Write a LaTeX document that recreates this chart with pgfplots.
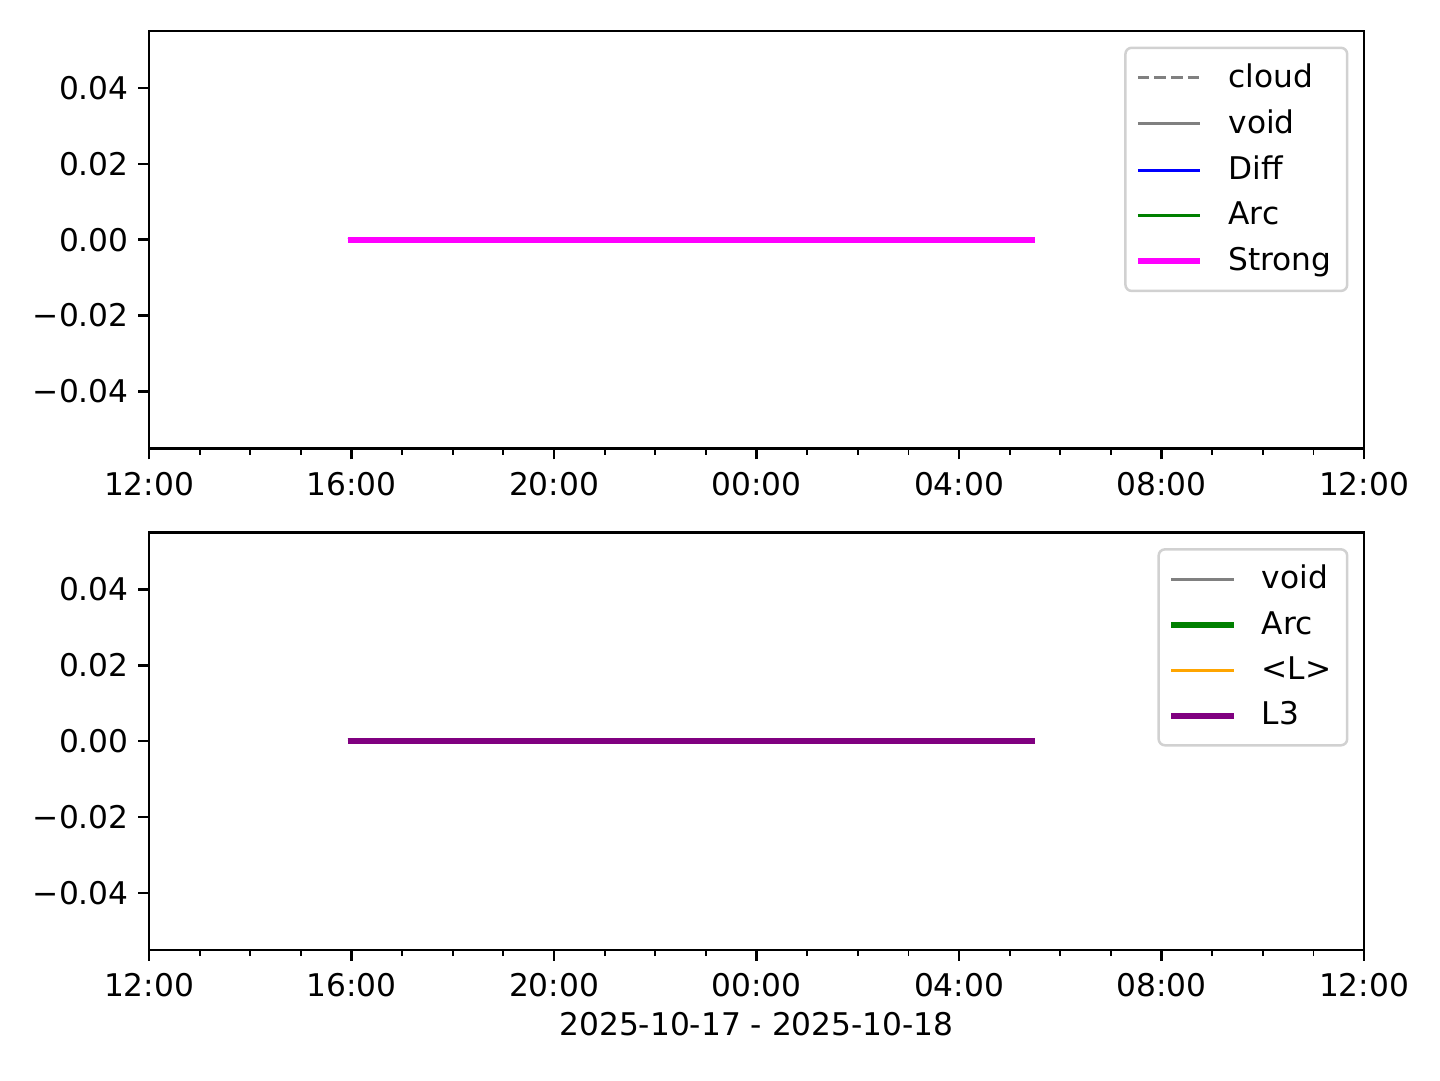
\documentclass[border=0pt]{standalone}
\usepackage{pgfplots}
\pgfplotsset{compat=1.18}
\usepackage{fontspec}
\setmainfont{DejaVu Sans}
\definecolor{mgray}{HTML}{808080}
\definecolor{mblue}{HTML}{0000FF}
\definecolor{mgreen}{HTML}{008000}
\definecolor{mmagenta}{HTML}{FF00FF}
\definecolor{morange}{HTML}{FFA500}
\definecolor{mpurple}{HTML}{800080}
\pgfplotsset{
  myaxis/.style={
    scale only axis,
    width=388.8pt, height=133.6pt,
    xmin=12, xmax=36, ymin=-0.055, ymax=0.055,
    scaled y ticks=false,
    xtick={12,16,20,24,28,32,36},
    xticklabels={12:00,16:00,20:00,00:00,04:00,08:00,12:00},
    minor xtick={13,14,15,17,18,19,21,22,23,25,26,27,29,30,31,33,34,35},
    ytick={-0.04,-0.02,0,0.02,0.04},
    yticklabels={−0.04,−0.02,0.00,0.02,0.04},
    tick align=outside,
    xtick pos=bottom, ytick pos=left,
    major tick length=3.5pt, minor tick length=2pt,
    every tick/.style={black, line width=0.8pt},
    minor tick style={black, line width=0.6pt},
    axis line style={line width=0.8pt},
    tick label style={font=\fontsize{10}{12}\selectfont},
    label style={font=\fontsize{10}{12}\selectfont},
    xticklabel style={yshift=-0.5pt},
    yticklabel style={xshift=0.5pt},
    legend style={
      at={(1,1)}, anchor=north east, xshift=-5pt, yshift=-5pt,
      draw=black!18, rounded corners=2pt, line width=0.8pt,
      font=\fontsize{10}{12}\selectfont,
      row sep=1.7pt, inner xsep=3pt, inner ysep=3pt,
      cells={anchor=west},
      /tikz/every odd column/.append style={column sep=6pt},
    },
    legend image code/.code={\draw[##1] (0pt,0pt) -- (20pt,0pt);},
  }
}
\begin{document}
\begin{tikzpicture}
\path (0,0) rectangle (460.8pt,345.6pt);
\begin{axis}[myaxis, at={(47.7pt,202.1pt)}, anchor=south west]
\addplot[mgray, line width=1pt, dash pattern=on 3.7pt off 1.6pt] coordinates {(15.92,0) (29.5,0)};
\addlegendentry{cloud}
\addplot[mgray, line width=1pt] coordinates {(15.92,0) (29.5,0)};
\addlegendentry{void}
\addplot[mblue, line width=1pt] coordinates {(15.92,0) (29.5,0)};
\addlegendentry{Diff}
\addplot[mgreen, line width=1pt] coordinates {(15.92,0) (29.5,0)};
\addlegendentry{Arc}
\addplot[mmagenta, line width=2pt] coordinates {(15.92,0) (29.5,0)};
\addlegendentry{Strong}
\end{axis}
\begin{axis}[myaxis, at={(47.7pt,41.6pt)}, anchor=south west,
  xlabel={2025-10-17 - 2025-10-18}, xlabel style={yshift=2pt}]
\addplot[mgray, line width=1pt] coordinates {(15.92,0) (29.5,0)};
\addlegendentry{void}
\addplot[mgreen, line width=2pt] coordinates {(15.92,0) (29.5,0)};
\addlegendentry{Arc}
\addplot[morange, line width=1pt] coordinates {(15.92,0) (29.5,0)};
\addlegendentry{<L>}
\addplot[mpurple, line width=2pt] coordinates {(15.92,0) (29.5,0)};
\addlegendentry{L3}
\end{axis}
\end{tikzpicture}
\end{document}
